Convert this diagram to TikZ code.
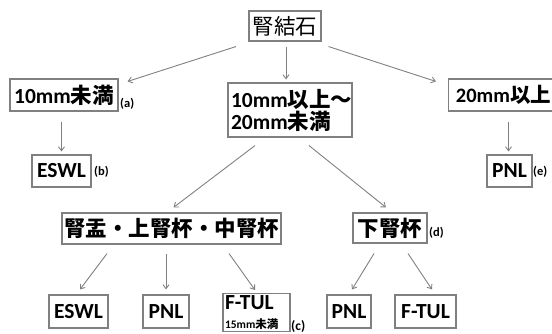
\documentclass[tikz,border=0pt]{standalone}
\usepackage{fontspec}
\setmainfont{Carlito}
\newfontfamily\jp{Noto Sans CJK JP}
\usepackage{tikz}
\usetikzlibrary{calc,arrows.meta}

\begin{document}
\begin{tikzpicture} [x=1pt, y=-1pt,
    >={Straight Barb[length=4pt,width=6pt]},
    box/.style={draw=gray, line width=1.1pt, inner sep=2pt, minimum height=32pt,
      font=\bfseries\fontsize{21.5}{22}\selectfont},
    tag/.style={anchor=west, inner sep=0pt, font=\bfseries\fontsize{12.5}{13}\selectfont},
    arr/.style={->, draw=gray, line width=0.9pt}]
  \useasboundingbox (0,0) rectangle (552,334);

  \node[box, minimum width=72pt, minimum height=30pt,
    font=\fontsize{21.5}{22}\selectfont] (stone) at (285,26) {\jp 腎結石};

  \node[box, minimum width=108pt] (lt10) at (64,95) {10mm{\jp 未満}};
  \node[box, minimum width=124pt, minimum height=54pt, text width=118pt,
    align=left] (mid) at (290,110) {10mm{\jp 以上〜}\\20mm{\jp 未満}};
  \node[box, minimum width=110pt, font=\bfseries\fontsize{20.5}{22}\selectfont]
    (ge20) at (503.5,95) {20mm{\jp 以上}};

  \node[box, minimum width=59pt] (eswlA) at (61.5,171) {ESWL};
  \node[box, minimum width=45pt] (pnlE) at (509.5,171) {PNL};

  \node[box, minimum width=197pt, minimum height=31pt] (renal) at (171.5,228.5)
    {\jp 腎盂・上腎杯・中腎杯};
  \node[box, minimum width=74pt, minimum height=30pt] (lower) at (390,228) {\jp 下腎杯};

  \node[box, minimum width=59pt, minimum height=33pt] (eswl) at (78.5,311.5) {ESWL};
  \node[box, minimum width=46pt, minimum height=33pt] (pnl) at (166,311.5) {PNL};
  \node[box, anchor=north, minimum width=67pt, text width=63pt, align=left]
    (ftul) at (256.5,293)
    {F-TUL\\[-3pt]{\fontsize{11.5}{12}\selectfont 15mm{\jp 未満}}};
  \node[box, minimum width=44pt, minimum height=33pt] (pnl2) at (349,311.5) {PNL};
  \node[box, minimum width=61pt, minimum height=33pt] (ftul2) at (425.5,311.5) {F-TUL};

  % labels beside the boxes
  \node[tag] (ta) at (120,104) {(a)};
  \node[tag] (tb) at (94,172) {(b)};
  \node[tag, font=\bfseries\fontsize{13.5}{14}\selectfont] (tc) at (291,327) {(c)};
  \node[tag] (td) at (429,233) {(d)};
  \node[tag] (te) at (533,172) {(e)};

  \draw[arr] ($(stone.south)+(-49,5)$) -- ($(lt10.north east)+(9,3)$);
  \draw[arr] ($(stone.south)+(1,5)$) -- ($(stone.south |- mid.north)+(1,-3)$);
  \draw[arr] ($(stone.south east)+(7,5)$) -- ($(ge20.north west)+(-12,3)$);

  \draw[arr] ($(eswlA.north |- lt10.south)+(0,10)$) -- ($(eswlA.north)+(0,-3)$);
  \draw[arr] ($(pnlE.north |- ge20.south)+(-1,10)$) -- ($(pnlE.north)+(-1,-3)$);

  \draw[arr] ($(mid.south)+(-35,8)$) -- ($(renal.north)+(2,-5)$);
  \draw[arr] ($(mid.south)+(19,8)$) -- ($(lower.north)+(-4,-5)$);

  \draw[arr] ($(renal.south)+(-64.5,9)$) -- ($(eswl.north)+(1.5,-5)$);
  \draw[arr] ($(pnl.north |- renal.south)+(0,9)$) -- ($(pnl.north)+(0,-5)$);
  \draw[arr] ($(renal.south)+(57.5,9)$) -- ($(ftul.north)+(-1.5,-3)$);

  \draw[arr] ($(lower.south)+(-16,10)$) -- ($(pnl2.north)+(3,-5)$);
  \draw[arr] ($(lower.south)+(18,10)$) -- ($(ftul2.north)+(6.5,-5)$);
\end{tikzpicture}
\end{document}
